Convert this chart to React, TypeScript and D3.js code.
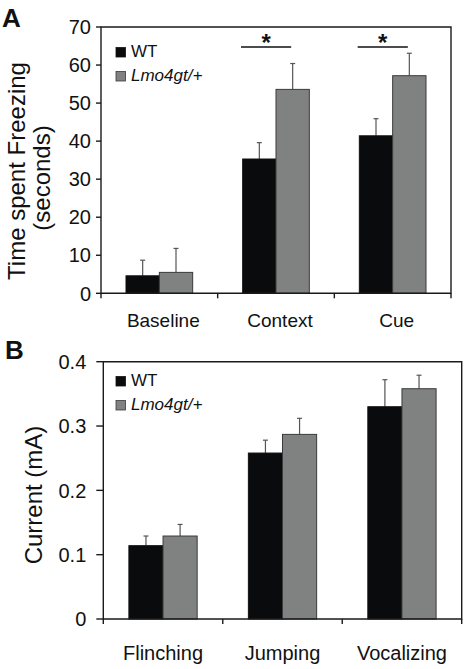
import React from "react";
import * as d3 from "d3";

// Panel A data
const catsA = ["Baseline", "Context", "Cue"];
const wtA = [4.6, 35.3, 41.4];
const wtErrA = [4.1, 4.3, 4.5];
const lmoA = [5.5, 53.6, 57.2];
const lmoErrA = [6.3, 6.8, 5.9];
const ticksA = [0, 10, 20, 30, 40, 50, 60, 70];
const sigA = ["Context", "Cue"];

// Panel B data
const catsB = ["Flinching", "Jumping", "Vocalizing"];
const wtB = [0.114, 0.258, 0.33];
const wtErrB = [0.015, 0.02, 0.042];
const lmoB = [0.129, 0.287, 0.358];
const lmoErrB = [0.018, 0.025, 0.021];
const ticksB = [0, 0.1, 0.2, 0.3, 0.4];

const seriesNames = ["WT", "Lmo4gt/+"];
const FONT = "'Liberation Sans', Arial, Helvetica, sans-serif";
const BLACK = "#0a0b0d";
const GRAY = "#808281";

type PanelProps = {
  label: string;
  cats: string[];
  wt: number[];
  wtErr: number[];
  lmo: number[];
  lmoErr: number[];
  ticks: number[];
  domainMax: number;
  x0: number;
  x1: number;
  yBottom: number;
  yTop: number;
  tickFmt: (v: number) => string;
  tickLen: number;
  tickPad: number;
  titleLines: { text: string; x: number; y: number }[];
  catFont: number;
  catY: number;
  catDx: number;
  labelPos: [number, number];
  legendY: number;
  sig?: string[];
};

function Panel(p: PanelProps) {
  const x = d3.scaleBand<string>().domain(p.cats).range([p.x0, p.x1]).padding(0);
  const inner = d3
    .scaleBand<string>()
    .domain(seriesNames)
    .range([0, x.bandwidth()])
    .paddingInner(0)
    .paddingOuter(0.75);
  const y = d3.scaleLinear().domain([0, p.domainMax]).range([p.yBottom, p.yTop]);
  const series = [
    { name: seriesNames[0], vals: p.wt, errs: p.wtErr, fill: BLACK, stroke: "#111" },
    { name: seriesNames[1], vals: p.lmo, errs: p.lmoErr, fill: GRAY, stroke: "#3a3a3a" },
  ];
  const bw = inner.bandwidth();
  const boundaries = [...p.cats.map((c) => x(c) as number), p.x1];
  return (
    <g>
      <text x={p.labelPos[0]} y={p.labelPos[1]} fontFamily={FONT} fontWeight="bold" fontSize={26} fill="#111">
        {p.label}
      </text>
      {p.titleLines.map((t, i) => (
        <text
          key={i}
          transform={`translate(${t.x},${t.y}) rotate(-90)`}
          textAnchor="middle"
          fontFamily={FONT}
          fontSize={24}
          fill="#111"
        >
          {t.text}
        </text>
      ))}
      {/* bars */}
      {series.map((s) =>
        p.cats.map((c, i) => {
          const bx = (x(c) as number) + (inner(s.name) as number);
          const top = y(s.vals[i]);
          const errTop = y(s.vals[i] + s.errs[i]);
          const cx = bx + bw / 2;
          return (
            <g key={s.name + c}>
              <line x1={cx} x2={cx} y1={top} y2={errTop} stroke="#555" strokeWidth={1.2} />
              <line x1={cx - 2.5} x2={cx + 2.5} y1={errTop} y2={errTop} stroke="#555" strokeWidth={1.2} />
              <rect x={bx} y={top} width={bw} height={p.yBottom - top} fill={s.fill} stroke={s.stroke} strokeWidth={1} />
            </g>
          );
        })
      )}
      {/* frame */}
      <path
        d={`M${p.x0},${p.yBottom}V${p.yTop}H${p.x1}V${p.yBottom}Z`}
        fill="none"
        stroke="#1a1a1a"
        strokeWidth={1.4}
      />
      {/* y ticks */}
      {p.ticks.map((t) => (
        <g key={t}>
          <line x1={p.x0 - p.tickLen} x2={p.x0} y1={y(t)} y2={y(t)} stroke="#1a1a1a" strokeWidth={1.4} />
          <text
            x={p.x0 - p.tickLen - p.tickPad}
            y={y(t)}
            dy="0.36em"
            textAnchor="end"
            fontFamily={FONT}
            fontSize={20}
            fill="#111"
          >
            {p.tickFmt(t)}
          </text>
        </g>
      ))}
      {/* x ticks at category boundaries */}
      {boundaries.map((bx, i) => (
        <line key={i} x1={bx} x2={bx} y1={p.yBottom} y2={p.yBottom + 5} stroke="#1a1a1a" strokeWidth={1.4} />
      ))}
      {p.cats.map((c) => (
        <text
          key={c}
          x={(x(c) as number) + x.bandwidth() / 2 + p.catDx}
          y={p.catY}
          textAnchor="middle"
          fontFamily={FONT}
          fontSize={p.catFont}
          fill="#111"
        >
          {c}
        </text>
      ))}
      {/* significance */}
      {(p.sig || []).map((c) => {
        const bx0 = (x(c) as number) + x.bandwidth() * 0.2;
        const bx1 = (x(c) as number) + x.bandwidth() * 0.63;
        return (
          <g key={"sig" + c}>
            <line x1={bx0} x2={bx1} y1={47} y2={47} stroke="#111" strokeWidth={1.3} />
            <text x={(bx0 + bx1) / 2} y={51} textAnchor="middle" fontFamily={FONT} fontWeight="bold" fontSize={24} fill="#111">
              *
            </text>
          </g>
        );
      })}
      {/* legend */}
      {series.map((s, i) => (
        <g key={"leg" + s.name} transform={`translate(116,${p.legendY + i * 24})`}>
          <rect x={0} y={0} width={9.5} height={9.5} fill={s.fill} stroke={s.stroke} strokeWidth={0.8} />
          <text
            x={15}
            y={9.8}
            fontFamily={FONT}
            fontSize={17}
            fontStyle={i === 1 ? "italic" : "normal"}
            fill="#111"
          >
            {s.name}
          </text>
        </g>
      ))}
    </g>
  );
}

export default function App() {
  const fmtB = (v: number) => (v === 0 ? "0" : d3.format(".1f")(v));
  return (
    <svg
      width={467}
      height={669}
      viewBox="0 0 467 669"
      style={{ position: "absolute", left: 0, top: 0, background: "#fff" }}
    >
      <rect x={0} y={0} width={467} height={669} fill="#fff" />
      <Panel
        label="A"
        cats={catsA}
        wt={wtA}
        wtErr={wtErrA}
        lmo={lmoA}
        lmoErr={lmoErrA}
        ticks={ticksA}
        domainMax={70}
        x0={101}
        x1={451}
        yBottom={293.3}
        yTop={27}
        tickFmt={(v) => String(v)}
        tickLen={5}
        tickPad={5}
        titleLines={[
          { text: "Time spent Freezing", x: 25, y: 171 },
          { text: "(seconds)", x: 50, y: 178 },
        ]}
        catFont={19}
        catY={327}
        catDx={4}
        labelPos={[2, 27]}
        legendY={47.5}
        sig={sigA}
      />
      <Panel
        label="B"
        cats={catsB}
        wt={wtB}
        wtErr={wtErrB}
        lmo={lmoB}
        lmoErr={lmoErrB}
        ticks={ticksB}
        domainMax={0.4}
        x0={103.3}
        x1={461.7}
        yBottom={619}
        yTop={361.7}
        tickFmt={fmtB}
        tickLen={7}
        tickPad={10}
        titleLines={[{ text: "Current (mA)", x: 42, y: 495 }]}
        catFont={20}
        catY={660}
        catDx={0}
        labelPos={[5, 359]}
        legendY={376.5}
      />
    </svg>
  );
}
